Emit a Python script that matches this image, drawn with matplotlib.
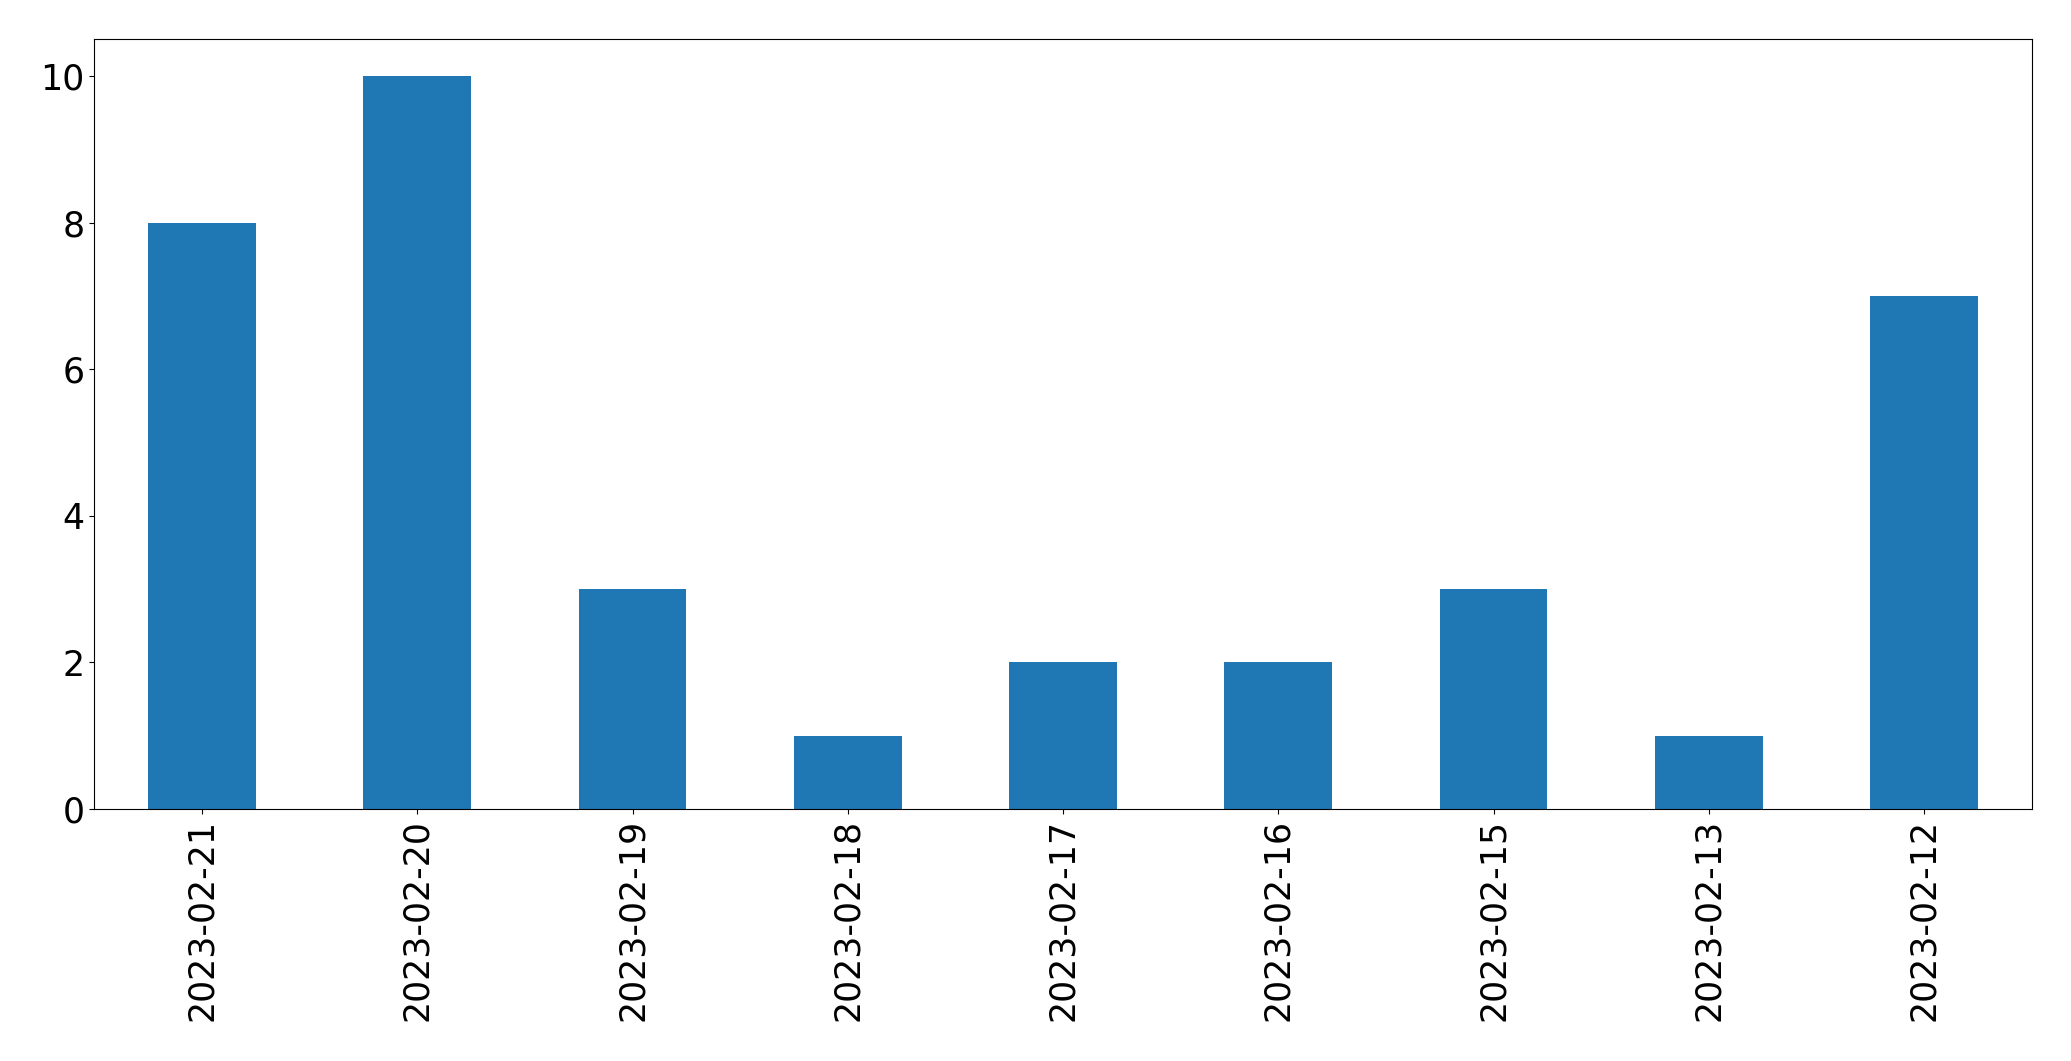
import pandas as pd
import matplotlib
matplotlib.use("Agg")
import matplotlib.pyplot as plt

dates = ["2023-02-21", "2023-02-20", "2023-02-19", "2023-02-18", "2023-02-17",
         "2023-02-16", "2023-02-15", "2023-02-13", "2023-02-12"]
counts = [8, 10, 3, 1, 2, 2, 3, 1, 7]

series = pd.Series(counts, index=dates)

fig = plt.figure(figsize=(20.71, 10.61), dpi=100)
ax = fig.add_axes([0.0456, 0.2375, 0.9354, 0.7253])
series.plot(kind="bar", ax=ax, color="#1f77b4")
ax.tick_params(axis="both", labelsize=25)
ax.tick_params(axis="x", rotation=90)

fig.savefig("out.png", dpi=100)
